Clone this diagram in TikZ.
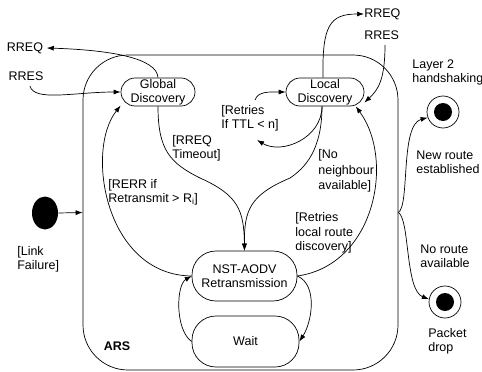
\documentclass[tikz,border=0pt]{standalone}
\usepackage{fontspec}
\setmainfont{Liberation Sans}
\usetikzlibrary{shapes.geometric,arrows.meta}
\begin{document}
\begin{tikzpicture}[x=1pt,y=-1pt,
  every node/.style={font=\fontsize{12.5}{14}\selectfont},
  lbl/.style={align=left,inner sep=0pt,anchor=west},
  pill/.style={draw,rectangle,align=center,inner sep=0pt},
  final/.style={circle,draw,minimum size=32pt,inner sep=0pt,
    path picture={\fill (path picture bounding box.center) circle (9pt);}},
  arr/.style={-{Latex[length=7pt,width=5pt]}},
  line width=0.7pt]
\useasboundingbox (0,0) rectangle (482,372);

% ARS composite state
\node[draw,rectangle,rounded corners=45pt,minimum width=315pt,minimum height=315pt] (ARS) at (240.5,212.5) {};
\node[font=\fontsize{12.5}{14}\selectfont\bfseries] (arslbl) at (117,346) {ARS};

% states
\node[pill,rounded corners=14pt,minimum width=74pt,minimum height=28pt] (GD) at (158,92) {Global\\Discovery};
\node[pill,rounded corners=14pt,minimum width=78pt,minimum height=28pt] (LD) at (325,92) {Local\\Discovery};
\node[pill,rounded corners=24pt,minimum width=105pt,minimum height=50pt] (NST) at (244.5,276) {NST-AODV\\Retransmission};
\node[pill,rounded corners=24pt,minimum width=107pt,minimum height=51pt] (W) at (245.5,341.5) {Wait};

% initial / final
\node[ellipse,fill,minimum width=26pt,minimum height=33pt,inner sep=0pt] (init) at (45,213) {};
\node[final] (L2) at (443,112) {};
\node[final] (PD) at (445,302) {};

% labels
\node (rreqL) at (25,48) {RREQ};
\node (rresL) at (26,76) {RRES};
\node[lbl] (rreqR) at (364,14) {RREQ};
\node[lbl] (rresR) at (364,35) {RRES};
\node[lbl] (link) at (17,259) {[Link\\Failure]};
\node[lbl] (rerr) at (108,192) {[RERR if\\Retransmit > R\textsubscript{i}]};
\node[lbl] (tout) at (172,148) {[RREQ\\Timeout]};
\node[lbl] (ttl) at (221,118) {[Retries\\If TTL < n]};
\node[lbl,font=\fontsize{12.5}{15.5}\selectfont] (nonb) at (318,171) {[No\\neighbour\\available]};
\node[lbl,font=\fontsize{12.5}{14.5}\selectfont] (lrd) at (295,233) {[Retries\\local route\\discovery]};
\node[lbl] (l2t) at (412,72) {Layer 2\\handshaking};
\node[lbl] (nre) at (416,162) {New route\\established};
\node[lbl] (nra) at (420,256) {No route\\available};
\node[lbl] (pdt) at (428,341) {Packet\\drop};

\coordinate (rresLs) at (30,86);
\coordinate (loopEnd) at (257,140);
\coordinate (loopStart) at (255,100);
\coordinate (rresRs) at (385,45);
\coordinate (toutMid) at (200,178);
\coordinate (nonbMid) at (290,178);

% connectors
\draw[arr] (init.east) -- (ARS.west);
\draw[arr] (GD.north) .. controls (157,58) and (110,50) .. (rreqL.east);
\draw[arr] (rresLs) .. controls (34,102) and (75,92) .. (GD.west);
\draw[arr] (NST.west) .. controls (105,275) and (85,150) .. (GD.200);
\draw[arr] (GD.south) .. controls (158,150) and (170,163) .. (toutMid) .. controls (238,195) and (244,210) .. (NST.north);
\draw[arr] ([xshift=-3pt]LD.south) .. controls (322,150) and (305,168) .. (nonbMid) .. controls (250,195) and (244,210) .. (NST.north);
\draw[arr] ([xshift=-3pt]LD.south) .. controls (322,138) and (282,155) .. (loopEnd);
\draw[arr] (loopStart) .. controls (258,91) and (270,92) .. (LD.west);
\draw[arr] ([xshift=-2pt]LD.north) .. controls (322,25) and (330,14) .. (rreqR.west);
\draw[arr] (rresRs) .. controls (385,80) and (378,90) .. (LD.-15);
\draw[arr] (NST.east) .. controls (375,265) and (395,160) .. (LD.-25);
\draw[arr] (NST.east) .. controls (318,285) and (312,322) .. (W.east);
\draw[arr] (W.west) .. controls (175,330) and (176,285) .. (NST.west);
\draw[arr] (ARS.east) .. controls (410,205) and (400,125) .. (L2.200);
\draw[arr] (ARS.east) .. controls (410,220) and (405,290) .. (PD.170);
\end{tikzpicture}
\end{document}
